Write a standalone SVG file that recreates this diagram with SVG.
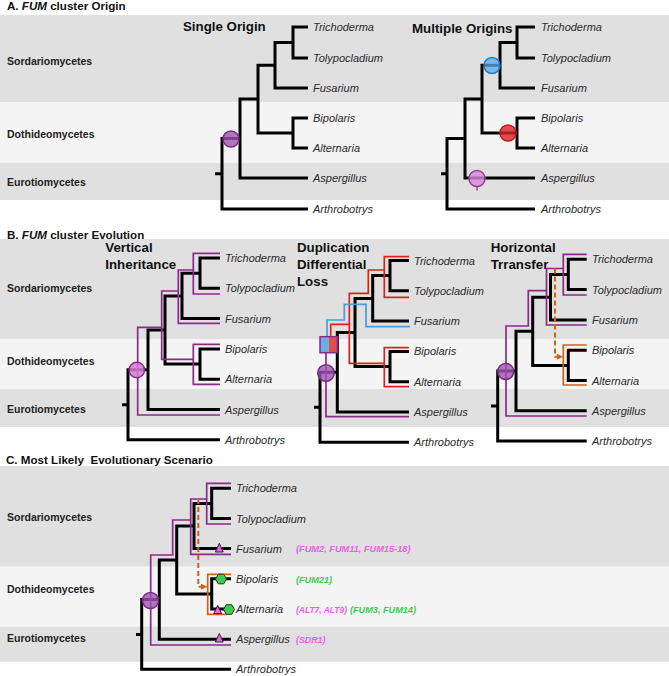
<svg xmlns="http://www.w3.org/2000/svg" width="669" height="676" viewBox="0 0 669 676">
<defs>
<style>
text{font-family:"Liberation Sans",Arial,sans-serif}
.bd{fill:#e0e0e0}.bl{fill:#f4f4f4}
.title{font-size:11.6px;font-weight:bold;fill:#111}
.head{font-size:13.3px;font-weight:bold;fill:#111}
.cls{font-size:10.5px;font-weight:bold;fill:#222}
.tip{font-size:11px;font-style:italic;fill:#2a2a2a}
.ann{font-size:9.2px;font-weight:bold;font-style:italic}
.mg{fill:#ee5cee}.gr{fill:#3fcc4a}
.br{fill:none;stroke:#000;stroke-width:3;stroke-linejoin:miter}
.pu{fill:none;stroke:#8b2a8b;stroke-width:1.7}
.rd{fill:none;stroke:#e0201a;stroke-width:1.7}
.blu{fill:none;stroke:#4a9be0;stroke-width:1.7}
.or{fill:none;stroke:#d2601a;stroke-width:1.7}
.dash{fill:none;stroke:#d2601a;stroke-width:2;stroke-dasharray:5 3}
.cp{fill:#9e55b2;fill-opacity:0.8;stroke:#7a2a88;stroke-width:1.5}
.cpl{fill:#d47ed4;fill-opacity:0.85;stroke:#8b2a8b;stroke-width:1.5}
.tri{fill:#e466e4;stroke:#3a1a3a;stroke-width:1}
.hex{fill:#3fcc4a;stroke:#1a3a1a;stroke-width:1}
</style>
<marker id="arr" viewBox="0 0 6 6" refX="6" refY="3" markerWidth="6" markerHeight="6" markerUnits="userSpaceOnUse" orient="auto"><path d="M0 0L6 3L0 6z" fill="#d2601a"/></marker>
</defs>
<rect width="669" height="676" fill="#fff"/>

<!-- Panel A -->
<g id="panelA">
<rect class="bd" x="0" y="15" width="669" height="87"/>
<rect class="bl" x="0" y="102" width="669" height="61"/>
<rect class="bd" x="0" y="163" width="669" height="37"/>
<text class="title" x="7" y="10">A. <tspan font-style="italic">FUM</tspan> cluster Origin</text>
<text class="cls" x="7" y="64.8">Sordariomycetes</text>
<text class="cls" x="7" y="137.8">Dothideomycetes</text>
<text class="cls" x="7" y="185.8">Eurotiomycetes</text>
<text class="head" x="183" y="30.7">Single Origin</text>
<text class="head" x="412" y="33.3">Multiple Origins</text>
</g>

<!-- Panel B -->
<g id="panelB">
<rect class="bd" x="0" y="239" width="669" height="100"/>
<rect class="bl" x="0" y="339" width="669" height="50"/>
<rect class="bd" x="0" y="389" width="669" height="38"/>
<text class="title" x="7" y="238.5">B. <tspan font-style="italic">FUM</tspan> cluster Evolution</text>
<text class="cls" x="7" y="291.8">Sordariomycetes</text>
<text class="cls" x="7" y="364.8">Dothideomycetes</text>
<text class="cls" x="7" y="412.8">Eurotiomycetes</text>
<text class="head" x="105.3" y="252.3">Vertical</text>
<text class="head" x="105.3" y="269.3">Inheritance</text>
<text class="head" x="297" y="252.3">Duplication</text>
<text class="head" x="297" y="269.3">Differential</text>
<text class="head" x="297" y="286">Loss</text>
<text class="head" x="490.7" y="252.3">Horizontal</text>
<text class="head" x="490.7" y="269">Trransfer</text>
</g>

<!-- Panel C -->
<g id="panelC">
<rect class="bd" x="0" y="466" width="669" height="100.7"/>
<rect class="bl" x="0" y="566.7" width="669" height="60"/>
<rect class="bd" x="0" y="626.7" width="669" height="35"/>
<text class="title" x="6" y="464.3" xml:space="preserve">C. Most Likely  Evolutionary Scenario</text>
<text class="cls" x="7" y="520.5">Sordariomycetes</text>
<text class="cls" x="7" y="593">Dothideomycetes</text>
<text class="cls" x="7" y="641.5">Eurotiomycetes</text>
<text class="ann mg" x="296" y="552.3" textLength="114.5" lengthAdjust="spacingAndGlyphs">(FUM2, FUM11, FUM15-18)</text>
<text class="ann gr" x="296" y="582.5" textLength="36" lengthAdjust="spacingAndGlyphs">(FUM21)</text>
<text class="ann mg" x="296" y="613" textLength="51" lengthAdjust="spacingAndGlyphs">(ALT7, ALT9)</text>
<text class="ann gr" x="350" y="613" textLength="66" lengthAdjust="spacingAndGlyphs">(FUM3, FUM14)</text>
<text class="ann mg" x="296" y="642.5" textLength="29.5" lengthAdjust="spacingAndGlyphs">(SDR1)</text>
</g>

<g id="connectors">
<!-- A1 tree -->
<path class="br" d="M308 27H293V58H308M293 42.5H275V88H308M308 118H293V148H308M275 65.25H258V133H293M258 99H240V178H308M240 138.5H222V209H308M215 173.75H222"/>
<!-- A2 tree -->
<path class="br" d="M535 27H517V58H535M517 42.5H500V88H535M535 118H517V148H535M500 65.25H482V133H517M482 99H465V178H535M465 138.5H447V209H535M441 173.75H447"/>
<!-- B1 -->
<path class="br" d="M220 258H200V288.3H220M200 273.2H182V318.6H220M220 348.9H200V379.2H220M182 295.9H165V364H200M165 330H148V409.5H220M148 369.7H128V439.8H220M122 404.8H128"/>
<path class="pu" d="M220 253.3H193.3V294H220M193.3 270H178.3V323.3H220M178.3 291H161.7V359.3H193.3M220 344.3H193.3V384.3H220M161.7 327.3H137.7V415H220"/>
<!-- B2 -->
<path class="br" d="M409 260.5H390V290.8H409M390 275.6H372.7V321.1H409M409 351.4H390V381.7H409M372.7 298.4H355V366.5H390M355 332.5H337.3V412H409M337.3 372.2H320V442.3H409M314 407.2H320"/>
<path class="rd" d="M409 256.7H384.3V297.3H409M384.3 270H368.3V293.3H349.3V363.3H384.3M409 347.7H384.3V386.7H409M330.7 336.7V324.3H349.3"/>
<path class="blu" d="M327 336.7V320H344.3V304.3H366V326.7H410"/>
<path class="pu" d="M326 352.7V416.7H409"/>
<!-- B3 -->
<path class="br" d="M586.7 259.3H568.3V289.6H586.7M568.3 274.5H550.5V319.9H586.7M586.7 350.2H568.3V380.5H586.7M550.5 297.2H532.7V365.4H568.3M532.7 331.3H516V410.8H586.7M516 371H497.7V441.1H586.7M491 406H497.7"/>
<path class="pu" d="M586.7 254.3H563.3V295H586.7M563.3 268.5H546.5V325H586.7M546.5 290.7H528.3V326H506V416H586.7"/>
<path class="or" d="M586.7 345H563.3V385H586.7"/>
<path class="dash" d="M555 268.5V356.7H563" marker-end="url(#arr)"/>
<!-- C -->
<path class="br" d="M231 488.3H211.7V518.5H231M211.7 503.4H194V548.6H231M231 578.8H211.7V609H231M194 526H176.7V593.9H211.7M176.7 560H159.3V639.2H231M159.3 599.6H141.7V669.3H231M136 634.5H141.7"/>
<path class="pu" d="M231 483.3H206.7V524H231M206.7 499H190.7V554.3H231M190.7 520H172.7V555H150.7V645H231"/>
<path class="or" d="M231 574.3H207.7V614.3H227"/>
<path class="dash" d="M198.3 499V586.7H207" marker-end="url(#arr)"/>
</g>

<g id="markers">
<circle class="cp" cx="231" cy="139" r="8"/>
<circle cx="492" cy="65.5" r="8" fill="#5aace6" fill-opacity="0.75" stroke="#1a7ad4" stroke-width="1.5"/>
<circle cx="508" cy="133" r="8" fill="#d8262a" fill-opacity="0.8" stroke="#c01818" stroke-width="1.5"/>
<path d="M477 187V190.5" stroke="#9b3d9b" stroke-width="1.5"/>
<circle cx="477" cy="178.5" r="8" fill="#d98ad9" fill-opacity="0.8" stroke="#9b3d9b" stroke-width="1.5"/>
<circle class="cpl" cx="136.8" cy="370" r="7.7"/>
<g id="dupbox">
<rect x="320" y="336.7" width="8.7" height="16" fill="#6aaee8"/>
<rect x="328.7" y="336.7" width="8.6" height="16" fill="#e0504a"/>
<rect x="320" y="336.7" width="17.3" height="16" fill="none" stroke="#8b2a8b" stroke-width="1.5"/>
</g>
<circle class="cp" cx="326" cy="373" r="8.3"/>
<circle class="cp" cx="505.7" cy="371.5" r="8"/>
<circle class="cp" cx="150.5" cy="600.5" r="8"/>
<polygon class="tri" points="219.3,543.3 223.2,552 215.4,552"/>
<polygon class="hex" points="226.5,579 223.75,583.8 218.25,583.8 215.5,579 218.25,574.2 223.75,574.2"/>
<polygon class="tri" points="217.7,605.3 221.6,613.6 213.8,613.6"/>
<polygon class="hex" points="234.5,609.5 231.75,614.3 226.25,614.3 223.5,609.5 226.25,604.7 231.75,604.7"/>
<polygon class="tri" points="219.3,633.5 223.2,642 215.4,642"/>
</g>

<!-- tip labels (nodes) -->
<g id="tipsA1">
<text class="tip" x="313" y="31">Trichoderma</text>
<text class="tip" x="313" y="62">Tolypocladium</text>
<text class="tip" x="313" y="92">Fusarium</text>
<text class="tip" x="313" y="122">Bipolaris</text>
<text class="tip" x="313" y="152">Alternaria</text>
<text class="tip" x="313" y="182">Aspergillus</text>
<text class="tip" x="313" y="213">Arthrobotrys</text>
</g>
<g id="tipsA2">
<text class="tip" x="541" y="31">Trichoderma</text>
<text class="tip" x="541" y="62">Tolypocladium</text>
<text class="tip" x="541" y="92">Fusarium</text>
<text class="tip" x="541" y="122">Bipolaris</text>
<text class="tip" x="541" y="152">Alternaria</text>
<text class="tip" x="541" y="182">Aspergillus</text>
<text class="tip" x="541" y="213">Arthrobotrys</text>
</g>
<g id="tipsB1">
<text class="tip" x="225" y="262">Trichoderma</text>
<text class="tip" x="225" y="292.3">Tolypocladium</text>
<text class="tip" x="225" y="322.6">Fusarium</text>
<text class="tip" x="225" y="352.9">Bipolaris</text>
<text class="tip" x="225" y="383.2">Alternaria</text>
<text class="tip" x="225" y="413.5">Aspergillus</text>
<text class="tip" x="225" y="443.8">Arthrobotrys</text>
</g>
<g id="tipsB2">
<text class="tip" x="414" y="264.5">Trichoderma</text>
<text class="tip" x="414" y="294.8">Tolypocladium</text>
<text class="tip" x="414" y="325.1">Fusarium</text>
<text class="tip" x="414" y="355.4">Bipolaris</text>
<text class="tip" x="414" y="385.7">Alternaria</text>
<text class="tip" x="414" y="416">Aspergillus</text>
<text class="tip" x="414" y="446.3">Arthrobotrys</text>
</g>
<g id="tipsB3">
<text class="tip" x="592" y="263.3">Trichoderma</text>
<text class="tip" x="592" y="293.6">Tolypocladium</text>
<text class="tip" x="592" y="323.9">Fusarium</text>
<text class="tip" x="592" y="354.2">Bipolaris</text>
<text class="tip" x="592" y="384.5">Alternaria</text>
<text class="tip" x="592" y="414.8">Aspergillus</text>
<text class="tip" x="592" y="445.1">Arthrobotrys</text>
</g>
<g id="tipsC">
<text class="tip" x="236" y="492.3">Trichoderma</text>
<text class="tip" x="236" y="522.5">Tolypocladium</text>
<text class="tip" x="236" y="552.6">Fusarium</text>
<text class="tip" x="236" y="582.8">Bipolaris</text>
<text class="tip" x="236" y="613">Alternaria</text>
<text class="tip" x="236" y="643.2">Aspergillus</text>
<text class="tip" x="236" y="673.3">Arthrobotrys</text>
</g>
</svg>
